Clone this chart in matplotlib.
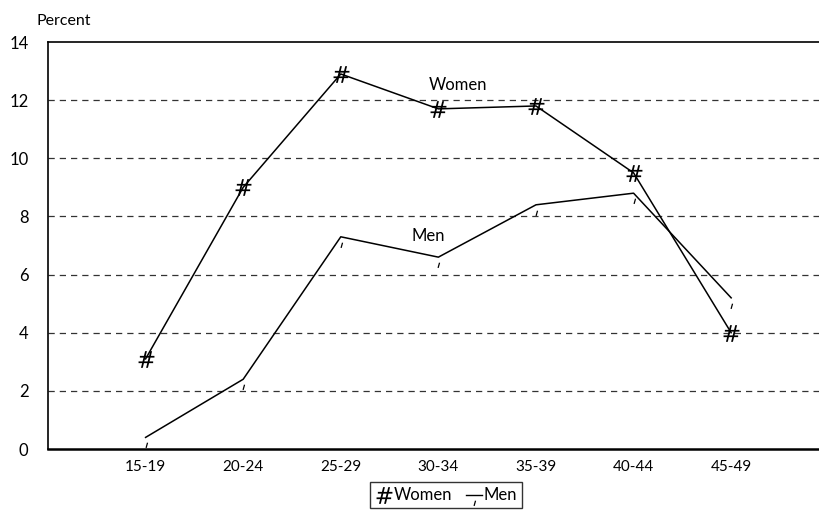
import numpy as np
import matplotlib.pyplot as plt
from matplotlib.path import Path
from matplotlib.lines import Line2D

ages = ['15-19', '20-24', '25-29', '30-34', '35-39', '40-44', '45-49']
women = [3.1, 9.0, 12.9, 11.7, 11.8, 9.5, 4.0]
men = [0.4, 2.4, 7.3, 6.6, 8.4, 8.8, 5.2]

plt.rcParams['font.family'] = ['Lato', 'DejaVu Sans']
plt.rcParams['mathtext.fontset'] = 'custom'
plt.rcParams['mathtext.it'] = 'DejaVu Sans:italic'
plt.rcParams['mathtext.rm'] = 'DejaVu Sans'

fig = plt.figure(figsize=(8.19, 5.16), dpi=100)
ax = fig.add_axes([0.0586, 0.1298, 0.9414, 0.7888])

x = np.arange(1, len(ages) + 1)

# little tick glyph sitting just below each point for the men series
tick = Path([(0.1, -0.5), (-0.04, -1.0)])
hash_mk = r'$\mathit{\#}$'

ax.plot(x, women, color='black', lw=1.1, zorder=3)
ax.plot(x, women, ls='none', color='black', marker=hash_mk, markersize=12,
        markeredgewidth=0, zorder=3)
ax.plot(x, men, color='black', lw=1.1, zorder=3)
ax.plot(x, men, ls='none', marker=tick, markersize=15, markerfacecolor='none',
        markeredgecolor='black', markeredgewidth=0.9, zorder=3, clip_on=False)

ax.text(4.2, 12.35, 'Women', fontsize=12, ha='center')
ax.text(3.9, 7.15, 'Men', fontsize=12, ha='center')

ax.set_xlim(0, 7.9)
ax.set_ylim(0, 14)
ax.set_yticks(range(0, 15, 2))
ax.set_xticks(x)
ax.set_xticklabels(ages, fontsize=11)
ax.tick_params(axis='y', labelsize=12, length=0, pad=14)
ax.tick_params(axis='x', length=0, pad=8)

for yv in range(2, 13, 2):
    ax.axhline(yv, color='#333333', lw=0.9, ls=(0, (5, 4)), zorder=1)

ax.spines['right'].set_visible(False)
ax.spines['top'].set_linewidth(1.2)
ax.spines['left'].set_linewidth(1.2)
ax.spines['bottom'].set_linewidth(1.8)

fig.text(0.044, 0.952, 'Percent', fontsize=11.5)

handles = [
    Line2D([], [], ls='none', color='black', marker=hash_mk, markersize=12,
           markeredgewidth=0),
    Line2D([], [], ls='-', color='black', lw=1.0, marker=tick, markersize=15,
           markerfacecolor='none', markeredgecolor='black', markeredgewidth=0.9),
]
leg = fig.legend(handles, ['Women', 'Men'], loc='upper center',
                 bbox_to_anchor=(0.545, 0.065), ncol=2, fontsize=12,
                 frameon=True, fancybox=False, handlelength=1.0,
                 handletextpad=0.1, columnspacing=0.8, borderpad=0.3,
                 borderaxespad=0)
leg.get_frame().set_edgecolor('black')
leg.get_frame().set_linewidth(1.0)

fig.savefig('out.png', dpi=100)
